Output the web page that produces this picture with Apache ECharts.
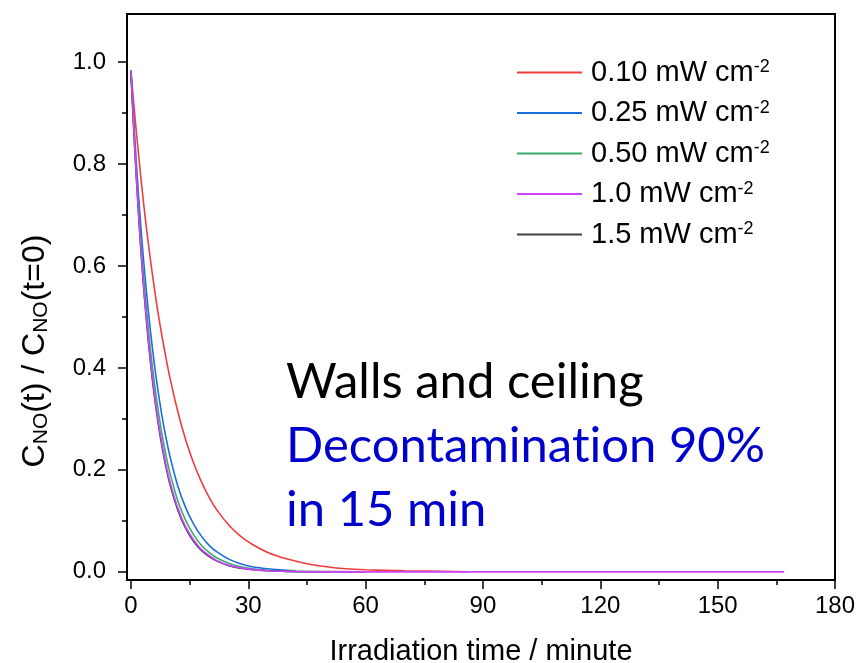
<!DOCTYPE html>
<html>
<head>
<meta charset="utf-8">
<script src="https://cdn.jsdelivr.net/npm/echarts@6/dist/echarts.min.js"></script>
<style>html,body{margin:0;padding:0;background:#fff}#c{width:856px;height:663px}</style>
</head>
<body>
<div id="c"></div>
<script>
// ---- data ----
const seriesNames = ['0.10', '0.25', '0.50', '1.0', '1.5'];
const seriesColors = ['#f23c3c', '#1a6fdf', '#3aaa6a', '#cc44ff', '#404040'];

const tRed = [0,1,2,3,4,5,6,7,8,9,10,12,14,16,18,20,22,25,28,31,35,40,45,50,55,60,70,80,86];
const cRed = [0.984,0.895,0.815,0.740,0.672,0.612,0.556,0.505,0.460,0.418,0.380,0.314,0.259,0.214,0.177,0.146,0.121,0.092,0.070,0.054,0.038,0.025,0.016,0.010,0.006,0.004,0.002,0.001,0.000];

const tBlue = [0,1,2,3,4,5,6,7,8,9,10,12,14,16,18,20,22,25,28,31,35,38,42];
const cBlue = [0.984,0.849,0.733,0.633,0.547,0.472,0.407,0.352,0.303,0.262,0.226,0.168,0.126,0.094,0.070,0.052,0.039,0.025,0.016,0.010,0.006,0.004,0.002];

const tGreen = [0,1,2,3,4,5,6,7,8,9,10,12,14,16,18,20,22,25,28,31,35,40,50];
const cGreen = [0.984,0.836,0.710,0.603,0.513,0.436,0.370,0.315,0.267,0.227,0.193,0.139,0.101,0.073,0.052,0.038,0.027,0.017,0.010,0.006,0.003,0.001,0.000];

const tMagenta = [0,1,2,3,4,5,6,7,8,9,10,12,14,16,18,20,22,25,28,31,35,40,50,60,80,100,120,140,167];
const cMagenta = [0.984,0.829,0.698,0.587,0.494,0.416,0.351,0.295,0.249,0.209,0.176,0.125,0.088,0.063,0.044,0.032,0.022,0.013,0.008,0.005,0.002,0.001,0.000,0.000,0.000,0.000,0.000,0.000,0.000];

const tBlack = [0,1,2,3,4,5,6,7,8,9,10,12,14,16,18,20,22,25,28,31,35,40,60];
const cBlack = [0.980,0.826,0.694,0.582,0.489,0.410,0.344,0.289,0.243,0.204,0.171,0.121,0.085,0.060,0.042,0.030,0.021,0.012,0.007,0.004,0.002,0.001,0.000];

const xMajorTicks = [0, 30, 60, 90, 120, 150, 180];
const xMinorTicks = [15, 45, 75, 105, 135, 165];
const yMajorTicks = [0, 0.2, 0.4, 0.6, 0.8, 1.0];
const yMinorTicks = [0.1, 0.3, 0.5, 0.7, 0.9];

const xTitle = 'Irradiation time / minute';
// \u200C only breaks the "ti" ligature of the font; the text is unchanged
const noteLines = ['Walls and ceiling', 'Decontaminat\u200Cion 90%', 'in 15 min'];

// ---- build chart ----
function pairs(t, c) { return t.map((v, i) => [v, c[i]]); }
const dataSets = [pairs(tRed, cRed), pairs(tBlue, cBlue), pairs(tGreen, cGreen), pairs(tMagenta, cMagenta), pairs(tBlack, cBlack)];
// draw order: black under magenta
const drawOrder = [0, 1, 2, 4, 3];

const FONT = '"Liberation Sans", Arial, sans-serif';
const NOTE_FONT = '49px Lato, "Open Sans", sans-serif';
const chart = echarts.init(document.getElementById('c'), null, { renderer: 'canvas' });

const series = drawOrder.map(i => ({
  name: seriesNames[i],
  type: 'line',
  data: dataSets[i],
  xAxisIndex: 0,
  yAxisIndex: 0,
  smooth: 0.35,
  showSymbol: false,
  symbol: 'none',
  color: seriesColors[i],
  lineStyle: { width: 1.6, color: seriesColors[i] },
  emphasis: { disabled: true }
}));

const axisLineStyle = { color: '#000', width: 2 };

chart.setOption({
  animation: false,
  backgroundColor: '#fff',
  grid: { left: 127, right: 21, top: 14, bottom: 83, containLabel: false, outerBoundsMode: 'none', show: true, borderColor: '#000', borderWidth: 2, backgroundColor: 'transparent' },
  legend: {
    data: seriesNames,
    orient: 'vertical',
    left: 517,
    top: 58,
    padding: 0,
    itemGap: 11.5,
    itemWidth: 65,
    itemHeight: 2,
    icon: 'rect',
    selectedMode: false,
    formatter: name => '{t|' + name + ' mW cm}{s|-2}',
    textStyle: {
      color: '#000',
      fontFamily: FONT,
      fontSize: 29,
      padding: [0, 0, 0, 4],
      rich: {
        t: { fontSize: 29, lineHeight: 28, fontFamily: FONT, color: '#000' },
        s: { fontSize: 18, lineHeight: 12, fontFamily: FONT, color: '#000', verticalAlign: 'top' }
      }
    }
  },
  xAxis: [
    {
      type: 'value', min: -1, max: 180, position: 'bottom',
      axisLine: { show: true, onZero: false, lineStyle: axisLineStyle },
      axisTick: { show: true, customValues: xMajorTicks, length: 9, lineStyle: { color: '#000', width: 1.5 } },
      axisLabel: { customValues: xMajorTicks, fontSize: 24, fontFamily: FONT, color: '#000', margin: 14 },
      splitLine: { show: false },
      name: xTitle, nameLocation: 'middle', nameGap: 57,
      nameTextStyle: { fontSize: 29, fontFamily: FONT, color: '#000' }
    },
    {
      type: 'value', min: -1, max: 180, position: 'bottom',
      axisLine: { show: false, onZero: false },
      axisTick: { show: true, customValues: xMinorTicks, length: 5, lineStyle: { color: '#000', width: 1.5 } },
      axisLabel: { show: false },
      splitLine: { show: false }
    }
  ],
  yAxis: [
    {
      type: 'value', min: -0.016, max: 1.094, position: 'left',
      axisLine: { show: true, onZero: false, lineStyle: axisLineStyle },
      axisTick: { show: true, customValues: yMajorTicks, length: 9, lineStyle: { color: '#000', width: 1.5 } },
      axisLabel: { customValues: yMajorTicks, fontSize: 24, fontFamily: FONT, color: '#000', margin: 21, formatter: v => v.toFixed(1) },
      splitLine: { show: false }
    },
    {
      type: 'value', min: -0.016, max: 1.094, position: 'left',
      axisLine: { show: false, onZero: false },
      axisTick: { show: true, customValues: yMinorTicks, length: 5, lineStyle: { color: '#000', width: 1.5 } },
      axisLabel: { show: false },
      splitLine: { show: false }
    }
  ],
  graphic: [
    {
      type: 'text', x: 35, y: 351, rotation: Math.PI / 2,
      style: {
        text: '{a|C}{s|NO}{a|(t) / C}{s|NO}{a|(t=0)}',
        align: 'center', verticalAlign: 'middle',
        rich: {
          a: { fontSize: 32, lineHeight: 34, fontFamily: FONT, fill: '#000', verticalAlign: 'middle' },
          s: { fontSize: 21, lineHeight: 16, fontFamily: FONT, fill: '#000', verticalAlign: 'bottom' }
        }
      }
    },
    { type: 'text', x: 286, y: 382, style: { text: noteLines[0], font: NOTE_FONT, fill: '#000', align: 'left', verticalAlign: 'middle' } },
    { type: 'text', x: 286, y: 446, style: { text: noteLines[1], font: NOTE_FONT, fill: '#0000cc', align: 'left', verticalAlign: 'middle' } },
    { type: 'text', x: 286, y: 510, style: { text: noteLines[2], font: NOTE_FONT, fill: '#0000cc', align: 'left', verticalAlign: 'middle' } }
  ],
  series: series
});
</script>
</body>
</html>
